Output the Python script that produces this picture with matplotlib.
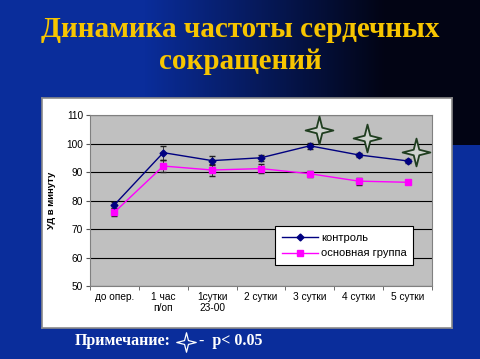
import numpy as np
import matplotlib
matplotlib.use("Agg")
import matplotlib.pyplot as plt
from matplotlib.path import Path

# data
categories = ["до опер.", "1 час\nп/оп", "1сутки\n23-00", "2 сутки", "3 сутки", "4 сутки", "5 сутки"]
control = [78.5, 96.8, 94.0, 95.0, 99.2, 96.0, 93.9]
control_err = [1.0, 2.5, 1.5, 1.0, 1.0, 0.8, 0.8]
main_group = [75.9, 92.1, 90.7, 91.2, 89.4, 86.8, 86.4]
main_err = [1.5, 2.0, 2.0, 1.5, 1.0, 1.2, 0.5]
significant = [4, 5, 6]          # categories marked p < 0.05
star_lift = [5.5, 6.0, 3.0]      # how far the star sits above the control point

plt.rcParams["font.family"] = ["Liberation Sans", "DejaVu Sans"]

fig = plt.figure(figsize=(4.81, 3.59), dpi=100)

# slide background: blue, with a blue->black band along the top
H, W = 359, 481
bg = np.zeros((H, W, 3))
blue = np.array([10, 45, 155]) / 255
black = np.array([2, 4, 20]) / 255
t = np.clip((np.arange(W) / W - 0.3) / 0.5, 0, 1)
band = blue[None, :] * (1 - t[:, None]) + black[None, :] * t[:, None]
bg[:] = blue
bg[:145] = band[None, :, :]
bgax = fig.add_axes([0, 0, 1, 1], zorder=-10)
bgax.imshow(bg, aspect="auto", extent=[0, 1, 0, 1])
bgax.axis("off")

fig.text(0.5, 0.873, "Динамика частоты сердечных\nсокращений", ha="center", va="center",
         color="#f7c500", fontsize=21, fontweight="bold", family="Liberation Serif",
         linespacing=1.25)

# white chart panel
panel = fig.add_axes([0.0873, 0.0864, 0.852, 0.641], zorder=-5)
panel.set_xticks([])
panel.set_yticks([])
panel.set_facecolor("white")
for s in panel.spines.values():
    s.set_color("#8a8a8a")
    s.set_linewidth(1.2)

ax = fig.add_axes([0.1871, 0.2033, 0.711, 0.4763])
ax.set_facecolor("#c0c0c0")
x = np.arange(len(categories))
ax.errorbar(x, control, yerr=control_err, fmt="none", ecolor="#202020",
            elinewidth=0.6, capsize=2, zorder=3)
ax.errorbar(x, main_group, yerr=main_err, fmt="none", ecolor="#202020",
            elinewidth=0.6, capsize=2, zorder=3)
ax.plot(x, control, color="#000080", marker="D", markersize=3.5, lw=1.0,
        label="контроль", zorder=5)
ax.plot(x, main_group, color="#ff00ff", marker="s", markersize=4.5, lw=1.0,
        label="основная группа", zorder=4)

star = Path([(0, 1), (0.2, 0.2), (1, 0), (0.2, -0.2), (0, -1), (-0.2, -0.2),
             (-1, 0), (-0.2, 0.2), (0, 1)], closed=True)
sx = [i + 0.18 for i in significant]
sy = [control[i] + d for i, d in zip(significant, star_lift)]
ax.scatter(sx, sy, marker=star, s=400, facecolor="#cfd3cf", edgecolor="#1f3d1f",
           lw=1.3, zorder=6)

ax.set_xlim(-0.5, len(categories) - 0.5)
ax.set_ylim(50, 110)
ax.set_yticks(range(50, 111, 10))
ax.set_xticks(x)
ax.set_xticklabels(categories, fontsize=7.3)
ax.set_xticks(np.arange(-0.5, len(categories), 1), minor=True)
ax.tick_params(axis="x", which="major", length=0, pad=4)
ax.tick_params(axis="x", which="minor", length=3, color="#555555", direction="out")
ax.tick_params(axis="y", labelsize=7.3, length=3, color="#555555", pad=2)
ax.yaxis.grid(True, color="black", lw=0.8)
ax.set_axisbelow(True)
for s in ax.spines.values():
    s.set_color("#808080")
ax.set_ylabel("УД в минуту", fontsize=6.8, fontweight="bold", labelpad=7)

leg = ax.legend(loc="lower right", bbox_to_anchor=(0.962, 0.09), fontsize=8,
                frameon=True, fancybox=False, edgecolor="black", framealpha=1,
                handlelength=3.2, handletextpad=0.3, borderpad=0.6, labelspacing=0.5)
leg.get_frame().set_linewidth(0.8)

# note under the chart
fig.text(0.156, 0.05, "Примечание:", color="white", fontsize=11.5, fontweight="bold",
         family="Liberation Serif", va="center")
fig.text(0.413, 0.05, "-  p< 0.05", color="white", fontsize=11.5, fontweight="bold",
         family="Liberation Serif", va="center")
fig.add_artist(plt.Line2D([0.387], [0.048], marker=star, markersize=14, mfc="none",
                          mec="white", mew=0.9, transform=fig.transFigure))

fig.savefig("out.png", dpi=100)
